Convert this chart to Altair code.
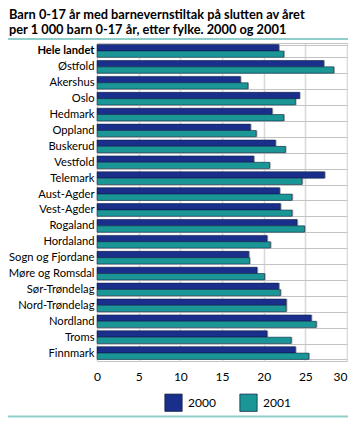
import altair as alt
import pandas as pd

regions = ["Hele landet", "Østfold", "Akershus", "Oslo", "Hedmark", "Oppland",
           "Buskerud", "Vestfold", "Telemark", "Aust-Agder", "Vest-Agder",
           "Rogaland", "Hordaland", "Sogn og Fjordane", "Møre og Romsdal",
           "Sør-Trøndelag", "Nord-Trøndelag", "Nordland", "Troms", "Finnmark"]
v2000 = [21.8, 27.2, 17.2, 24.3, 21.0, 18.4, 21.4, 18.8, 27.3, 21.9, 22.0,
         24.0, 20.4, 18.2, 19.2, 21.8, 22.7, 25.7, 20.4, 23.8]
v2001 = [22.4, 28.4, 18.1, 23.8, 22.4, 19.1, 22.6, 20.7, 24.6, 23.4, 23.4,
         24.9, 20.8, 18.3, 20.1, 22.0, 22.7, 26.3, 23.3, 25.4]
years = ["2000", "2001"]
x_ticks = [0, 5, 10, 15, 20, 25, 30]
title_lines = ["Barn 0-17 år med barnevernstiltak på slutten av året",
               "per 1 000 barn 0-17 år, etter fylke. 2000 og 2001"]

rows = []
for r, a, b in zip(regions, v2000, v2001):
    rows.append({"region": r, "year": years[0], "value": a})
    rows.append({"region": r, "year": years[1], "value": b})
df = pd.DataFrame(rows)

FONT = "Lato"
PAD_L = 89
one = pd.DataFrame({"k": [0]})

y_enc = alt.Y("region:N", sort=regions, title=None,
              scale=alt.Scale(paddingInner=0.2, paddingOuter=0.1),
              axis=alt.Axis(labelFontSize=11.2, labelColor="black", labelFont=FONT,
                            labelFontWeight=alt.ExprRef("datum.value == 'Hele landet' ? 'bold' : 'normal'"),
                            ticks=False, domain=False, labelPadding=3, labelLimit=120,
                            grid=True, tickBand="extent", gridColor="#c4c4c4",
                            gridWidth=1))
x_enc = alt.X("value:Q", title=None, scale=alt.Scale(domain=[0, 30], nice=False),
              axis=alt.Axis(values=x_ticks, labelFontSize=12, labelColor="black",
                            labelFont=FONT, ticks=False, domain=False, labelPadding=10,
                            labelFlush=False,
                            labelAlign=alt.ExprRef("datum.value == 30 ? 'right' : 'center'"),
                            grid=True, gridColor="#dadada", gridWidth=1.6))
yoff = alt.YOffset("year:N", sort=years)

base = alt.Chart(df)

shadow = base.mark_bar(color="#a0a0a0", xOffset=1.2, x2Offset=1.2, yOffset=1, y2Offset=1).encode(
    y=y_enc, x=x_enc, yOffset=yoff)

bars = base.mark_bar(stroke="#0a1a3a", strokeWidth=0.7, strokeOpacity=0.7).encode(
    y=y_enc, x=x_enc, yOffset=yoff,
    color=alt.Color("year:N", sort=years,
                    scale=alt.Scale(domain=years, range=["#1a2f8c", "#1a9696"]),
                    legend=alt.Legend(title=None, orient="none", legendX=67, legendY=350,
                                      direction="horizontal", symbolType="square",
                                      symbolSize=300, symbolStrokeColor="#0a1a3a",
                                      symbolStrokeWidth=0.7, labelFontSize=12,
                                      labelFont=FONT, labelColor="black",
                                      labelOffset=5, columnPadding=22, padding=0)))

top_line = alt.Chart(one).mark_rule(color="#8fcfcb", strokeWidth=2, clip=False).encode(
    x=alt.value(-PAD_L), x2=alt.value(251), y=alt.value(-4))
bottom_line = alt.Chart(one).mark_rule(color="#8fcfcb", strokeWidth=2, clip=False).encode(
    x=alt.value(-PAD_L), x2=alt.value(251), y=alt.value(373.5))

title1 = alt.Chart(one).mark_text(align="left", baseline="alphabetic", font=FONT,
                                  fontSize=12.8, fontWeight="bold", color="black",
                                  clip=False).encode(
    x=alt.value(-PAD_L + 1), y=alt.value(-24), text=alt.value(title_lines[0]))
title2 = alt.Chart(one).mark_text(align="left", baseline="alphabetic", font=FONT,
                                  fontSize=12.8, fontWeight="bold", color="black",
                                  clip=False).encode(
    x=alt.value(-PAD_L + 1), y=alt.value(-9.5), text=alt.value(title_lines[1]))

chart = alt.layer(shadow, bars, top_line, bottom_line, title1, title2).properties(
    width=250, height=318,
    autosize=alt.AutoSizeParams(type="none"),
    padding={"left": PAD_L, "top": 35, "right": 1, "bottom": 57},
).configure_view(stroke="#c4c4c4", strokeWidth=1)

chart.save("out.html", embed_options={"renderer": "svg", "actions": False})
